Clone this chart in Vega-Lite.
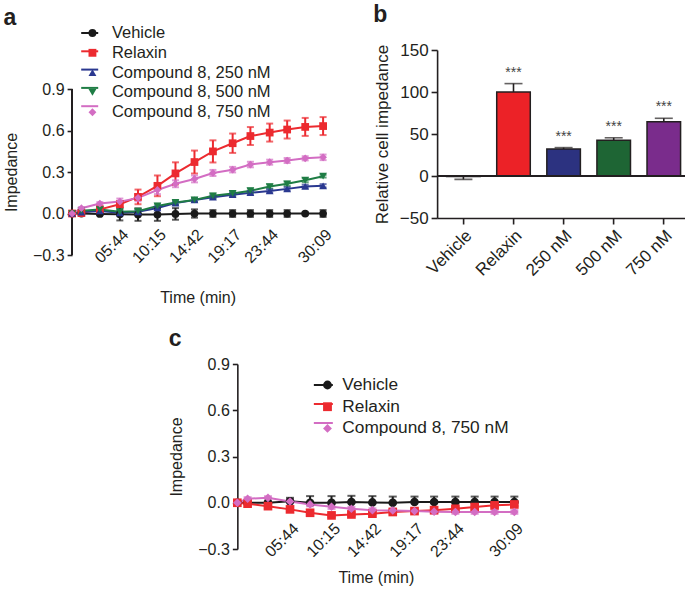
{
  "$schema": "https://vega.github.io/schema/vega-lite/v6.json",
  "background": "white",
  "padding": {"left": 3, "top": 4, "right": 0, "bottom": 0},
  "config": {
    "font": "Liberation Sans",
    "view": {"stroke": null},
    "axis": {"grid": false, "domainColor": "#231f20", "tickColor": "#231f20", "labelColor": "#231f20", "titleColor": "#231f20", "titleFontWeight": "normal", "domainWidth": 1.6, "tickWidth": 1.6, "labelFont": "Liberation Sans", "titleFont": "Liberation Sans"},
    "title": {"font": "Liberation Sans", "fontSize": 23, "fontWeight": "bold", "anchor": "start", "color": "#231f20"},
    "legend": {"labelFont": "Liberation Sans", "labelColor": "#231f20"}
  },
  "datasets": {
    "ts": [
      {"p":"a","s":"Vehicle","t":0,"v":0,"lo":0,"hi":0},
      {"p":"a","s":"Vehicle","t":67,"v":0,"lo":-0.004,"hi":0.004},
      {"p":"a","s":"Vehicle","t":200,"v":-0.003,"lo":-0.011,"hi":0.005},
      {"p":"a","s":"Vehicle","t":344,"v":-0.005,"lo":-0.05,"hi":0.04},
      {"p":"a","s":"Vehicle","t":475,"v":-0.008,"lo":-0.053,"hi":0.037},
      {"p":"a","s":"Vehicle","t":615,"v":-0.008,"lo":-0.053,"hi":0.037},
      {"p":"a","s":"Vehicle","t":745,"v":-0.003,"lo":-0.045,"hi":0.039},
      {"p":"a","s":"Vehicle","t":882,"v":0,"lo":-0.03,"hi":0.03},
      {"p":"a","s":"Vehicle","t":1015,"v":0,"lo":-0.025,"hi":0.025},
      {"p":"a","s":"Vehicle","t":1157,"v":0,"lo":-0.025,"hi":0.025},
      {"p":"a","s":"Vehicle","t":1285,"v":0,"lo":-0.025,"hi":0.025},
      {"p":"a","s":"Vehicle","t":1424,"v":0,"lo":-0.025,"hi":0.025},
      {"p":"a","s":"Vehicle","t":1550,"v":0,"lo":-0.025,"hi":0.025},
      {"p":"a","s":"Vehicle","t":1680,"v":0,"lo":-0.008,"hi":0.008},
      {"p":"a","s":"Vehicle","t":1809,"v":0,"lo":-0.025,"hi":0.025},
      {"p":"a","s":"Relaxin","t":0,"v":0,"lo":0,"hi":0},
      {"p":"a","s":"Relaxin","t":67,"v":0.003,"lo":-0.001,"hi":0.007},
      {"p":"a","s":"Relaxin","t":200,"v":0.03,"lo":0.02,"hi":0.04},
      {"p":"a","s":"Relaxin","t":344,"v":0.067,"lo":0.047,"hi":0.087},
      {"p":"a","s":"Relaxin","t":475,"v":0.12,"lo":0.067,"hi":0.173},
      {"p":"a","s":"Relaxin","t":615,"v":0.2,"lo":0.125,"hi":0.275},
      {"p":"a","s":"Relaxin","t":745,"v":0.29,"lo":0.21,"hi":0.37},
      {"p":"a","s":"Relaxin","t":882,"v":0.372,"lo":0.289,"hi":0.455},
      {"p":"a","s":"Relaxin","t":1015,"v":0.449,"lo":0.369,"hi":0.529},
      {"p":"a","s":"Relaxin","t":1157,"v":0.508,"lo":0.438,"hi":0.578},
      {"p":"a","s":"Relaxin","t":1285,"v":0.56,"lo":0.495,"hi":0.625},
      {"p":"a","s":"Relaxin","t":1424,"v":0.585,"lo":0.52,"hi":0.65},
      {"p":"a","s":"Relaxin","t":1550,"v":0.607,"lo":0.542,"hi":0.672},
      {"p":"a","s":"Relaxin","t":1680,"v":0.626,"lo":0.561,"hi":0.691},
      {"p":"a","s":"Relaxin","t":1809,"v":0.632,"lo":0.567,"hi":0.697},
      {"p":"a","s":"Compound 8, 250 nM","t":0,"v":0,"lo":0,"hi":0},
      {"p":"a","s":"Compound 8, 250 nM","t":67,"v":0.01,"lo":-0.002,"hi":0.022},
      {"p":"a","s":"Compound 8, 250 nM","t":200,"v":0.018,"lo":0.006,"hi":0.03},
      {"p":"a","s":"Compound 8, 250 nM","t":344,"v":0.005,"lo":-0.007,"hi":0.017},
      {"p":"a","s":"Compound 8, 250 nM","t":475,"v":0.012,"lo":0,"hi":0.024},
      {"p":"a","s":"Compound 8, 250 nM","t":615,"v":0.04,"lo":0.028,"hi":0.052},
      {"p":"a","s":"Compound 8, 250 nM","t":745,"v":0.075,"lo":0.063,"hi":0.087},
      {"p":"a","s":"Compound 8, 250 nM","t":882,"v":0.098,"lo":0.086,"hi":0.11},
      {"p":"a","s":"Compound 8, 250 nM","t":1015,"v":0.118,"lo":0.106,"hi":0.13},
      {"p":"a","s":"Compound 8, 250 nM","t":1157,"v":0.136,"lo":0.124,"hi":0.148},
      {"p":"a","s":"Compound 8, 250 nM","t":1285,"v":0.15,"lo":0.138,"hi":0.162},
      {"p":"a","s":"Compound 8, 250 nM","t":1424,"v":0.163,"lo":0.151,"hi":0.175},
      {"p":"a","s":"Compound 8, 250 nM","t":1550,"v":0.178,"lo":0.166,"hi":0.19},
      {"p":"a","s":"Compound 8, 250 nM","t":1680,"v":0.196,"lo":0.184,"hi":0.208},
      {"p":"a","s":"Compound 8, 250 nM","t":1809,"v":0.2,"lo":0.188,"hi":0.212},
      {"p":"a","s":"Compound 8, 500 nM","t":0,"v":0,"lo":0,"hi":0},
      {"p":"a","s":"Compound 8, 500 nM","t":67,"v":0.02,"lo":0.005,"hi":0.035},
      {"p":"a","s":"Compound 8, 500 nM","t":200,"v":0.029,"lo":0.014,"hi":0.044},
      {"p":"a","s":"Compound 8, 500 nM","t":344,"v":0.012,"lo":-0.003,"hi":0.027},
      {"p":"a","s":"Compound 8, 500 nM","t":475,"v":0.017,"lo":0.002,"hi":0.032},
      {"p":"a","s":"Compound 8, 500 nM","t":615,"v":0.055,"lo":0.04,"hi":0.07},
      {"p":"a","s":"Compound 8, 500 nM","t":745,"v":0.08,"lo":0.065,"hi":0.095},
      {"p":"a","s":"Compound 8, 500 nM","t":882,"v":0.098,"lo":0.083,"hi":0.113},
      {"p":"a","s":"Compound 8, 500 nM","t":1015,"v":0.128,"lo":0.113,"hi":0.143},
      {"p":"a","s":"Compound 8, 500 nM","t":1157,"v":0.145,"lo":0.13,"hi":0.16},
      {"p":"a","s":"Compound 8, 500 nM","t":1285,"v":0.165,"lo":0.15,"hi":0.18},
      {"p":"a","s":"Compound 8, 500 nM","t":1424,"v":0.195,"lo":0.18,"hi":0.21},
      {"p":"a","s":"Compound 8, 500 nM","t":1550,"v":0.215,"lo":0.2,"hi":0.23},
      {"p":"a","s":"Compound 8, 500 nM","t":1680,"v":0.241,"lo":0.226,"hi":0.256},
      {"p":"a","s":"Compound 8, 500 nM","t":1809,"v":0.27,"lo":0.26,"hi":0.28},
      {"p":"a","s":"Compound 8, 750 nM","t":0,"v":0,"lo":0,"hi":0},
      {"p":"a","s":"Compound 8, 750 nM","t":67,"v":0.038,"lo":0.03,"hi":0.046},
      {"p":"a","s":"Compound 8, 750 nM","t":200,"v":0.072,"lo":0.062,"hi":0.082},
      {"p":"a","s":"Compound 8, 750 nM","t":344,"v":0.086,"lo":0.064,"hi":0.108},
      {"p":"a","s":"Compound 8, 750 nM","t":475,"v":0.113,"lo":0.088,"hi":0.138},
      {"p":"a","s":"Compound 8, 750 nM","t":615,"v":0.17,"lo":0.14,"hi":0.2},
      {"p":"a","s":"Compound 8, 750 nM","t":745,"v":0.215,"lo":0.19,"hi":0.24},
      {"p":"a","s":"Compound 8, 750 nM","t":882,"v":0.25,"lo":0.225,"hi":0.275},
      {"p":"a","s":"Compound 8, 750 nM","t":1015,"v":0.293,"lo":0.271,"hi":0.315},
      {"p":"a","s":"Compound 8, 750 nM","t":1157,"v":0.317,"lo":0.297,"hi":0.337},
      {"p":"a","s":"Compound 8, 750 nM","t":1285,"v":0.354,"lo":0.334,"hi":0.374},
      {"p":"a","s":"Compound 8, 750 nM","t":1424,"v":0.371,"lo":0.353,"hi":0.389},
      {"p":"a","s":"Compound 8, 750 nM","t":1550,"v":0.383,"lo":0.365,"hi":0.401},
      {"p":"a","s":"Compound 8, 750 nM","t":1680,"v":0.399,"lo":0.384,"hi":0.414},
      {"p":"a","s":"Compound 8, 750 nM","t":1809,"v":0.406,"lo":0.386,"hi":0.426},
      {"p":"c","s":"Vehicle","t":0,"v":0,"lo":0,"hi":0},
      {"p":"c","s":"Vehicle","t":67,"v":0,"lo":0,"hi":0.005},
      {"p":"c","s":"Vehicle","t":200,"v":0,"lo":0,"hi":0.01},
      {"p":"c","s":"Vehicle","t":344,"v":0.01,"lo":0.01,"hi":0.032},
      {"p":"c","s":"Vehicle","t":475,"v":0,"lo":0,"hi":0.043},
      {"p":"c","s":"Vehicle","t":615,"v":0,"lo":0,"hi":0.043},
      {"p":"c","s":"Vehicle","t":745,"v":0.005,"lo":0.005,"hi":0.045},
      {"p":"c","s":"Vehicle","t":882,"v":0.002,"lo":0.002,"hi":0.043},
      {"p":"c","s":"Vehicle","t":1015,"v":0,"lo":0,"hi":0.04},
      {"p":"c","s":"Vehicle","t":1157,"v":0.005,"lo":0.005,"hi":0.04},
      {"p":"c","s":"Vehicle","t":1285,"v":0.005,"lo":0.005,"hi":0.04},
      {"p":"c","s":"Vehicle","t":1424,"v":0.005,"lo":0.005,"hi":0.04},
      {"p":"c","s":"Vehicle","t":1550,"v":0.005,"lo":0.005,"hi":0.04},
      {"p":"c","s":"Vehicle","t":1680,"v":0.005,"lo":0.005,"hi":0.04},
      {"p":"c","s":"Vehicle","t":1809,"v":0.005,"lo":0.005,"hi":0.04},
      {"p":"c","s":"Relaxin","t":0,"v":0,"lo":0,"hi":0},
      {"p":"c","s":"Relaxin","t":67,"v":-0.006,"lo":-0.012,"hi":0},
      {"p":"c","s":"Relaxin","t":200,"v":-0.022,"lo":-0.032,"hi":-0.012},
      {"p":"c","s":"Relaxin","t":344,"v":-0.043,"lo":-0.053,"hi":-0.033},
      {"p":"c","s":"Relaxin","t":475,"v":-0.065,"lo":-0.075,"hi":-0.055},
      {"p":"c","s":"Relaxin","t":615,"v":-0.082,"lo":-0.092,"hi":-0.072},
      {"p":"c","s":"Relaxin","t":745,"v":-0.076,"lo":-0.086,"hi":-0.066},
      {"p":"c","s":"Relaxin","t":882,"v":-0.071,"lo":-0.081,"hi":-0.061},
      {"p":"c","s":"Relaxin","t":1015,"v":-0.06,"lo":-0.07,"hi":-0.05},
      {"p":"c","s":"Relaxin","t":1157,"v":-0.054,"lo":-0.064,"hi":-0.044},
      {"p":"c","s":"Relaxin","t":1285,"v":-0.048,"lo":-0.058,"hi":-0.038},
      {"p":"c","s":"Relaxin","t":1424,"v":-0.039,"lo":-0.049,"hi":-0.029},
      {"p":"c","s":"Relaxin","t":1550,"v":-0.028,"lo":-0.038,"hi":-0.018},
      {"p":"c","s":"Relaxin","t":1680,"v":-0.017,"lo":-0.027,"hi":-0.007},
      {"p":"c","s":"Relaxin","t":1809,"v":-0.011,"lo":-0.021,"hi":-0.001},
      {"p":"c","s":"Compound 8, 750 nM","t":0,"v":0,"lo":0,"hi":0},
      {"p":"c","s":"Compound 8, 750 nM","t":67,"v":0.026,"lo":0.016,"hi":0.036},
      {"p":"c","s":"Compound 8, 750 nM","t":200,"v":0.032,"lo":0.022,"hi":0.042},
      {"p":"c","s":"Compound 8, 750 nM","t":344,"v":0.008,"lo":-0.004,"hi":0.02},
      {"p":"c","s":"Compound 8, 750 nM","t":475,"v":-0.011,"lo":-0.023,"hi":0.001},
      {"p":"c","s":"Compound 8, 750 nM","t":615,"v":-0.026,"lo":-0.04,"hi":-0.012},
      {"p":"c","s":"Compound 8, 750 nM","t":745,"v":-0.039,"lo":-0.051,"hi":-0.027},
      {"p":"c","s":"Compound 8, 750 nM","t":882,"v":-0.048,"lo":-0.06,"hi":-0.036},
      {"p":"c","s":"Compound 8, 750 nM","t":1015,"v":-0.05,"lo":-0.062,"hi":-0.038},
      {"p":"c","s":"Compound 8, 750 nM","t":1157,"v":-0.054,"lo":-0.066,"hi":-0.042},
      {"p":"c","s":"Compound 8, 750 nM","t":1285,"v":-0.058,"lo":-0.07,"hi":-0.046},
      {"p":"c","s":"Compound 8, 750 nM","t":1424,"v":-0.06,"lo":-0.072,"hi":-0.048},
      {"p":"c","s":"Compound 8, 750 nM","t":1550,"v":-0.06,"lo":-0.072,"hi":-0.048},
      {"p":"c","s":"Compound 8, 750 nM","t":1680,"v":-0.06,"lo":-0.072,"hi":-0.048},
      {"p":"c","s":"Compound 8, 750 nM","t":1809,"v":-0.06,"lo":-0.072,"hi":-0.048}
    ],
    "bars": [
      {"c":"Vehicle","v":-0.5,"e":-4,"st":""},
      {"c":"Relaxin","v":100,"e":110,"st":"***"},
      {"c":"250 nM","v":32.2,"e":33.8,"st":"***"},
      {"c":"500 nM","v":42.6,"e":45.5,"st":"***"},
      {"c":"750 nM","v":64.5,"e":68.7,"st":"***"}
    ]
  },
  "vconcat": [
    {
      "concat": [
        {
          "title": {"text": "a", "offset": -6},
          "width": 251,
          "height": 205,
          "data": {"name": "ts"},
          "transform": [{"filter": "datum.p == 'a'"}],
          "encoding": {
            "x": {"field": "t", "type": "quantitative", "scale": {"domain": [0, 1809], "nice": false, "zero": false},
              "axis": {"values": [344, 615, 882, 1157, 1424, 1809], "labelExpr": "utcFormat(datum.value * 1000, '%M:%S')", "labelAngle": -45, "labelOverlap": false, "labelFontSize": 16, "domain": false, "ticks": false, "offset": -31, "labelPadding": 2, "title": "Time (min)", "titleFontSize": 16, "titlePadding": 24}},
            "y": {"field": "v", "type": "quantitative", "scale": {"domain": [-0.3, 1.182], "nice": false, "zero": false},
              "axis": {"values": [-0.3, 0, 0.3, 0.6, 0.9], "format": ".1f", "domain": false, "labelFontSize": 16, "tickSize": 5, "labelPadding": 3, "title": "Impedance", "titleFontSize": 16, "titlePadding": 13, "titleY": 122}}
          },
          "layer": [
            {
              "mark": {"type": "rule", "color": "#231f20", "strokeWidth": 1.6},
              "encoding": {"x": {"datum": 0}, "y": {"datum": -0.3}, "y2": {"datum": 0.9}}
            },
            {
              "mark": {"type": "line", "strokeWidth": 2, "opacity": 0},
              "encoding": {
                "stroke": {"field": "s", "type": "nominal", "sort": null, "scale": {"range": ["#1a1a1a", "#ec2a2f", "#2a3890", "#1f7d45", "#d36dc3"]},
                  "legend": {"orient": "none", "legendX": 8.1, "legendY": -26.5, "title": null, "direction": "vertical", "symbolType": "stroke", "symbolSize": 289, "symbolStrokeWidth": 2, "symbolOpacity": 1, "labelOpacity": 0, "labelExpr": "' '", "labelFontSize": 16.5, "labelOffset": 12, "rowPadding": 0.3, "padding": 0, "labelLimit": 300}}
              }
            },
            {
              "mark": {"type": "line", "strokeWidth": 2},
              "encoding": {
                "color": {"field": "s", "type": "nominal", "scale": {"domain": ["Vehicle", "Relaxin", "Compound 8, 250 nM", "Compound 8, 500 nM", "Compound 8, 750 nM"], "range": ["#1a1a1a", "#ec2a2f", "#2a3890", "#1f7d45", "#d36dc3"]},
                  "legend": {"orient": "none", "legendX": 12.1, "legendY": -25.25, "title": null, "direction": "vertical", "symbolSize": 62, "symbolStrokeWidth": 0, "symbolOpacity": 1, "labelFontSize": 16.5, "labelOffset": 11.2, "rowPadding": 2.8, "padding": 0, "labelLimit": 300}}
              }
            },
            {
              "mark": {"type": "rule", "strokeWidth": 2},
              "encoding": {
                "y": {"field": "lo", "type": "quantitative"}, "y2": {"field": "hi"},
                "color": {"field": "s", "type": "nominal",
                  "legend": {"orient": "none", "legendX": 12.1, "legendY": -25.25, "title": null, "direction": "vertical", "symbolSize": 62, "symbolStrokeWidth": 0, "symbolOpacity": 1, "labelFontSize": 16.5, "labelOffset": 11.2, "rowPadding": 2.8, "padding": 0, "labelLimit": 300}}
              }
            },
            {
              "mark": {"type": "tick", "orient": "horizontal", "size": 7, "thickness": 2},
              "encoding": {
                "y": {"field": "lo", "type": "quantitative"},
                "color": {"field": "s", "type": "nominal",
                  "legend": {"orient": "none", "legendX": 12.1, "legendY": -25.25, "title": null, "direction": "vertical", "symbolSize": 62, "symbolStrokeWidth": 0, "symbolOpacity": 1, "labelFontSize": 16.5, "labelOffset": 11.2, "rowPadding": 2.8, "padding": 0, "labelLimit": 300}}
              }
            },
            {
              "mark": {"type": "tick", "orient": "horizontal", "size": 7, "thickness": 2},
              "encoding": {
                "y": {"field": "hi", "type": "quantitative"},
                "color": {"field": "s", "type": "nominal",
                  "legend": {"orient": "none", "legendX": 12.1, "legendY": -25.25, "title": null, "direction": "vertical", "symbolSize": 62, "symbolStrokeWidth": 0, "symbolOpacity": 1, "labelFontSize": 16.5, "labelOffset": 11.2, "rowPadding": 2.8, "padding": 0, "labelLimit": 300}}
              }
            },
            {
              "mark": {"type": "point", "filled": true, "opacity": 1, "size": 60},
              "encoding": {
                "color": {"field": "s", "type": "nominal",
                  "legend": {"orient": "none", "legendX": 12.1, "legendY": -25.25, "title": null, "direction": "vertical", "symbolSize": 62, "symbolStrokeWidth": 0, "symbolOpacity": 1, "labelFontSize": 16.5, "labelOffset": 11.2, "rowPadding": 2.8, "padding": 0, "labelLimit": 300}},
                "shape": {"field": "s", "type": "nominal", "scale": {"domain": ["Vehicle", "Relaxin", "Compound 8, 250 nM", "Compound 8, 500 nM", "Compound 8, 750 nM"], "range": ["circle", "square", "triangle-up", "triangle-down", "diamond"]},
                  "legend": {"orient": "none", "legendX": 12.1, "legendY": -25.25, "title": null, "direction": "vertical", "symbolSize": 62, "symbolStrokeWidth": 0, "symbolOpacity": 1, "labelFontSize": 16.5, "labelOffset": 11.2, "rowPadding": 2.8, "padding": 0, "labelLimit": 300}}
              }
            }
          ]
        },
        {
          "title": {"text": "b", "offset": 14},
          "width": 253,
          "height": 168,
          "data": {"name": "bars"},
          "layer": [
            {
              "mark": {"type": "rule", "color": "#231f20", "strokeWidth": 1.6},
              "encoding": {
                "x": {"field": "c", "type": "nominal", "sort": null, "scale": {"paddingInner": 0.33, "paddingOuter": 0.19},
                  "axis": {"labelAngle": -45, "labelFontSize": 17, "tickSize": 6, "labelPadding": 3, "title": null}},
                "y": {"field": "v", "type": "quantitative", "scale": {"domain": [-50, 150], "nice": false},
                  "axis": {"values": [-50, 0, 50, 100, 150], "labelFontSize": 17, "tickSize": 6, "labelPadding": 3, "title": "Relative cell impedance", "titleFontSize": 17, "titlePadding": 8}},
                "y2": {"field": "e"}
              }
            },
            {
              "mark": {"type": "tick", "orient": "horizontal", "size": 18, "thickness": 1.6, "color": "#231f20"},
              "encoding": {
                "x": {"field": "c", "type": "nominal", "sort": null},
                "y": {"field": "e", "type": "quantitative"}
              }
            },
            {
              "mark": {"type": "bar", "stroke": "#231f20", "strokeWidth": 1.5},
              "encoding": {
                "x": {"field": "c", "type": "nominal", "sort": null},
                "y": {"field": "v", "type": "quantitative"},
                "color": {"field": "c", "type": "nominal", "sort": null, "scale": {"domain": ["Vehicle", "Relaxin", "250 nM", "500 nM", "750 nM"], "range": ["#ffffff", "#ec2227", "#2c3280", "#1e6534", "#7a2c8c"]}, "legend": null}
              }
            },
            {
              "mark": {"type": "rule", "color": "#231f20", "strokeWidth": 1.6},
              "encoding": {"y": {"datum": 0}}
            },
            {
              "mark": {"type": "text", "dy": -11, "fontSize": 14, "color": "#444444", "baseline": "middle"},
              "encoding": {
                "x": {"field": "c", "type": "nominal", "sort": null},
                "y": {"field": "e", "type": "quantitative"},
                "text": {"field": "st"}
              }
            }
          ]
        }
      ],
      "columns": 2,
      "align": "none",
      "spacing": 38,
      "resolve": {
        "scale": {"color": "independent", "stroke": "independent", "shape": "independent"},
        "legend": {"color": "independent", "stroke": "independent", "shape": "independent"}
      }
    },
    {
      "title": {"text": "c", "offset": 5},
      "width": 277,
      "height": 185,
      "data": {"name": "ts"},
      "transform": [{"filter": "datum.p == 'c'"}],
      "encoding": {
        "x": {"field": "t", "type": "quantitative", "scale": {"domain": [0, 1809], "nice": false, "zero": false},
          "axis": {"values": [344, 615, 882, 1157, 1424, 1809], "labelExpr": "utcFormat(datum.value * 1000, '%M:%S')", "labelAngle": -45, "labelOverlap": false, "labelFontSize": 16, "domain": false, "ticks": false, "offset": -31, "labelPadding": 2, "title": "Time (min)", "titleFontSize": 16, "titlePadding": 10}},
        "y": {"field": "v", "type": "quantitative", "scale": {"domain": [-0.3, 0.9], "nice": false, "zero": false},
          "axis": {"values": [-0.3, 0, 0.3, 0.6, 0.9], "format": ".1f", "labelFontSize": 16, "tickSize": 5, "labelPadding": 3, "title": "Impedance", "titleFontSize": 16, "titlePadding": 13}}
      },
      "layer": [
        {
          "mark": {"type": "line", "strokeWidth": 2, "opacity": 0},
          "encoding": {
            "stroke": {"field": "s", "type": "nominal", "sort": null, "scale": {"range": ["#1a1a1a", "#ec2a2f", "#d36dc3"]},
              "legend": {"orient": "none", "legendX": 75.5, "legendY": 10.5, "title": null, "direction": "vertical", "symbolType": "stroke", "symbolSize": 361, "symbolStrokeWidth": 2, "symbolOpacity": 1, "labelOpacity": 0, "labelExpr": "' '", "labelFontSize": 17.3, "labelOffset": 12, "rowPadding": 0, "padding": 0, "labelLimit": 300}}
          }
        },
        {
          "mark": {"type": "line", "strokeWidth": 2},
          "encoding": {
            "color": {"field": "s", "type": "nominal", "scale": {"domain": ["Vehicle", "Relaxin", "Compound 8, 750 nM"], "range": ["#1a1a1a", "#ec2a2f", "#d36dc3"]},
              "legend": {"orient": "none", "legendX": 81.5, "legendY": 12.35, "title": null, "direction": "vertical", "symbolSize": 78, "symbolStrokeWidth": 0, "symbolOpacity": 1, "labelFontSize": 17.3, "labelOffset": 6.2, "rowPadding": 3.7, "padding": 0, "labelLimit": 300}}
          }
        },
        {
          "mark": {"type": "rule", "strokeWidth": 2},
          "encoding": {
            "y": {"field": "lo", "type": "quantitative"}, "y2": {"field": "hi"},
            "color": {"field": "s", "type": "nominal",
              "legend": {"orient": "none", "legendX": 81.5, "legendY": 12.35, "title": null, "direction": "vertical", "symbolSize": 78, "symbolStrokeWidth": 0, "symbolOpacity": 1, "labelFontSize": 17.3, "labelOffset": 6.2, "rowPadding": 3.7, "padding": 0, "labelLimit": 300}}
          }
        },
        {
          "mark": {"type": "tick", "orient": "horizontal", "size": 8, "thickness": 2},
          "encoding": {
            "y": {"field": "lo", "type": "quantitative"},
            "color": {"field": "s", "type": "nominal",
              "legend": {"orient": "none", "legendX": 81.5, "legendY": 12.35, "title": null, "direction": "vertical", "symbolSize": 78, "symbolStrokeWidth": 0, "symbolOpacity": 1, "labelFontSize": 17.3, "labelOffset": 6.2, "rowPadding": 3.7, "padding": 0, "labelLimit": 300}}
          }
        },
        {
          "mark": {"type": "tick", "orient": "horizontal", "size": 8, "thickness": 2},
          "encoding": {
            "y": {"field": "hi", "type": "quantitative"},
            "color": {"field": "s", "type": "nominal",
              "legend": {"orient": "none", "legendX": 81.5, "legendY": 12.35, "title": null, "direction": "vertical", "symbolSize": 78, "symbolStrokeWidth": 0, "symbolOpacity": 1, "labelFontSize": 17.3, "labelOffset": 6.2, "rowPadding": 3.7, "padding": 0, "labelLimit": 300}}
          }
        },
        {
          "mark": {"type": "point", "filled": true, "opacity": 1, "size": 75},
          "encoding": {
            "color": {"field": "s", "type": "nominal",
              "legend": {"orient": "none", "legendX": 81.5, "legendY": 12.35, "title": null, "direction": "vertical", "symbolSize": 78, "symbolStrokeWidth": 0, "symbolOpacity": 1, "labelFontSize": 17.3, "labelOffset": 6.2, "rowPadding": 3.7, "padding": 0, "labelLimit": 300}},
            "shape": {"field": "s", "type": "nominal", "scale": {"domain": ["Vehicle", "Relaxin", "Compound 8, 750 nM"], "range": ["circle", "square", "diamond"]},
              "legend": {"orient": "none", "legendX": 81.5, "legendY": 12.35, "title": null, "direction": "vertical", "symbolSize": 78, "symbolStrokeWidth": 0, "symbolOpacity": 1, "labelFontSize": 17.3, "labelOffset": 6.2, "rowPadding": 3.7, "padding": 0, "labelLimit": 300}}
          }
        }
      ]
    }
  ],
  "spacing": 22,
  "center": true,
  "resolve": {
    "scale": {"color": "independent", "stroke": "independent", "shape": "independent"},
    "legend": {"color": "independent", "stroke": "independent", "shape": "independent"}
  }
}
